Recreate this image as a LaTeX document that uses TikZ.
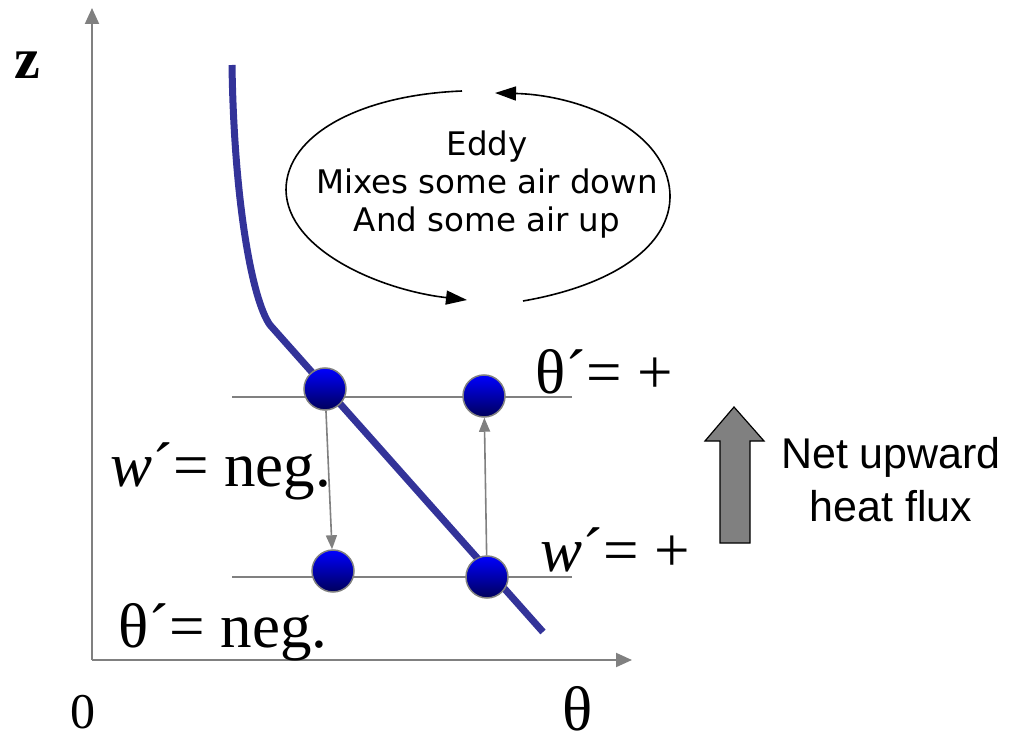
\documentclass[tikz,border=0pt]{standalone}
\usepackage{fontspec}
\setmainfont{Liberation Serif}
\newfontfamily\eddyfont{DejaVu Sans}
\newfontfamily\arialfont{Liberation Sans}
\usetikzlibrary{arrows.meta}
\definecolor{axisgray}{RGB}{128,128,128}
\definecolor{curveblue}{RGB}{51,51,153}
\definecolor{balltop}{RGB}{0,0,255}
\definecolor{ballbot}{RGB}{0,0,90}
\tikzset{
  axis/.style={draw=axisgray, line width=2pt, -{Triangle[width=14pt,length=16pt]}},
  level/.style={draw=axisgray, line width=1.6pt},
  move/.style={draw=axisgray, line width=1.6pt, -{Triangle[width=11pt,length=14pt]}},
  ball/.style={circle, minimum size=42pt, inner sep=0pt, draw=axisgray, line width=1.5pt, top color=balltop, bottom color=ballbot},
  eddyarc/.style={draw=black, line width=1.6pt, -{Triangle[width=14pt,length=21pt]}},
  bigtext/.style={font=\fontsize{63}{66}\selectfont, inner sep=0pt},
  eddytext/.style={font=\eddyfont\fontsize{32.5}{38}\selectfont, align=center, inner sep=0pt},
  fluxtext/.style={font=\arialfont\fontsize{43}{53}\selectfont, align=center, inner sep=0pt},
  fluxarrow/.style={draw=black, line width=1.2pt, fill=axisgray},
}
\begin{document}
\begin{tikzpicture}[x=1pt,y=-1pt]
\useasboundingbox (0,0) rectangle (1031,735);
% axes
\coordinate (origin) at (92,660);
\coordinate (ztip) at (92,8);
\coordinate (thtip) at (632,660);
\draw[axis] (origin) -- (ztip);
\draw[axis] (origin) -- (thtip);
\node[font=\bfseries\fontsize{58}{62}\selectfont, inner sep=0pt, anchor=base] (zlab) at (27,79) {z};
\node[font=\fontsize{50}{54}\selectfont, inner sep=0pt, anchor=base] (zero) at (83,728) {0};
\node[bigtext, anchor=base] (thlab) at (578,730) {θ};
% level lines
\coordinate (upL) at (232,397);
\coordinate (upR) at (572,397);
\coordinate (loL) at (232,577);
\coordinate (loR) at (572,577);
\draw[level] (upL) -- (upR);
\draw[level] (loL) -- (loR);
% profile curve
\coordinate (c0) at (232,65);
\coordinate (c1) at (270,325);
\coordinate (c2) at (543,632);
\draw[curveblue, line width=7pt] (c0) .. controls (234,200) and (252,300) .. (c1) -- (c2);
% balls
\node[ball] (b1) at (325,389) {};
\node[ball] (b2) at (484,396) {};
\node[ball] (b3) at (333,571) {};
\node[ball] (b4) at (487,577) {};
\draw[move] (b1) -- (b3);
\draw[move] (b4) -- (b2);
% labels
\node[bigtext, anchor=base west] (thp) at (535,393) {θ´= +};
\node[bigtext, anchor=base west] (wn) at (110,486) {{\itshape w}´= neg.};
\node[bigtext, anchor=base west] (wp) at (540,571) {{\itshape w}´= +};
\node[bigtext, anchor=base west] (thn) at (118,647) {θ´= neg.};
% eddy
\coordinate (eA) at (462,91);
\coordinate (eB) at (467,300);
\coordinate (eC) at (523,301);
\coordinate (eD) at (495,93);
\draw[eddyarc] (eA) .. controls (360,95) and (286,135) .. (286,190) .. controls (287,250) and (380,290) .. (eB);
\draw[eddyarc] (eC) .. controls (615,285) and (671,245) .. (670,195) .. controls (668,130) and (580,95) .. (eD);
\node[eddytext] (eddy) at (487,185) {Eddy\\Mixes some air down\\And some air up};
% net flux arrow
\draw[fluxarrow] (720,543) -- (720,441) -- (705,441) -- (734,407) -- (764,441) -- (750,441) -- (750,543) -- cycle;
\node[fluxtext] (fluxlab) at (891,480) {Net upward\\heat flux};
\end{tikzpicture}
\end{document}
